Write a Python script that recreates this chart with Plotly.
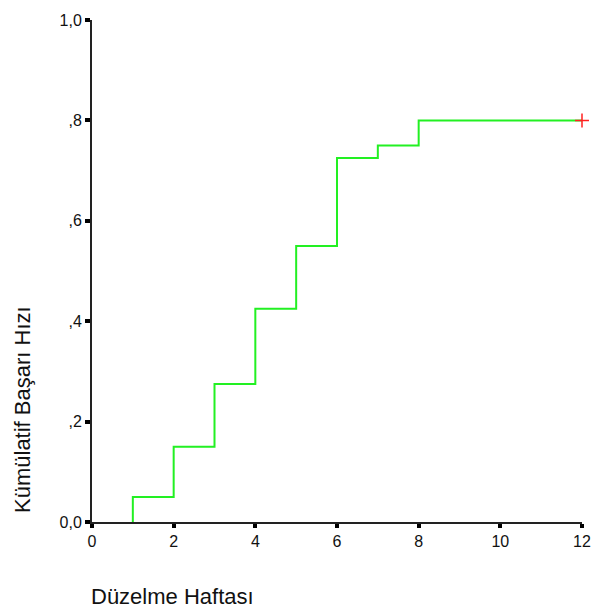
import plotly.graph_objects as go

event_weeks = [1, 2, 3, 4, 5, 6, 7, 8, 12]
cum_rate = [0.05, 0.15, 0.275, 0.425, 0.55, 0.725, 0.75, 0.80, 0.80]
censor_x = [12]
censor_y = [0.80]
x_ticks = [0, 2, 4, 6, 8, 10, 12]
y_ticks = [0, 0.2, 0.4, 0.6, 0.8, 1.0]
y_ticktext = ["0,0", ",2", ",4", ",6", ",8", "1,0"]

# step curve starting from zero at the first event
xs = [event_weeks[0]] + event_weeks
ys = [0.0] + cum_rate

fig = go.Figure()
fig.add_trace(go.Scatter(x=xs, y=ys, mode="lines", line_shape="hv",
                         line=dict(color="#22f022", width=2), hoverinfo="skip", cliponaxis=False))
fig.add_trace(go.Scatter(x=censor_x, y=censor_y, mode="markers",
                         marker=dict(symbol="cross-thin", size=10, line=dict(color="#ff2020", width=1.5)),
                         cliponaxis=False))

tfont = dict(family="Liberation Sans, Arial, sans-serif", color="#111", size=16)
lfont = dict(family="Liberation Sans, Arial, sans-serif", size=22, color="#111")
fig.update_layout(
    width=603, height=613,
    margin=dict(l=92, r=21, t=15, b=91),
    paper_bgcolor="white", plot_bgcolor="white",
    showlegend=False,
    font=tfont,
    xaxis=dict(range=[0, 12], tickvals=x_ticks, ticks="outside", ticklen=4, tickwidth=4,
               tickcolor="black", showline=True, linecolor="#222", linewidth=2,
               showgrid=False, zeroline=False, tickfont=tfont),
    yaxis=dict(range=[0, 1], tickvals=y_ticks, ticktext=y_ticktext, ticks="outside",
               ticklen=5, tickwidth=4, tickcolor="black", showline=True, linecolor="#222",
               linewidth=2, showgrid=False, zeroline=False, tickfont=tfont),
    annotations=[
        dict(text="Düzelme Haftası", xref="paper", yref="paper", x=-0.007, y=-0.148,
             xanchor="left", yanchor="middle", showarrow=False, font=lfont),
        dict(text="Kümülatif Başarı Hızı", xref="paper", yref="paper", x=-0.143, y=0.225,
             xanchor="center", yanchor="middle", textangle=-90, showarrow=False, font=lfont),
    ],
)
fig.write_html("out.html")
